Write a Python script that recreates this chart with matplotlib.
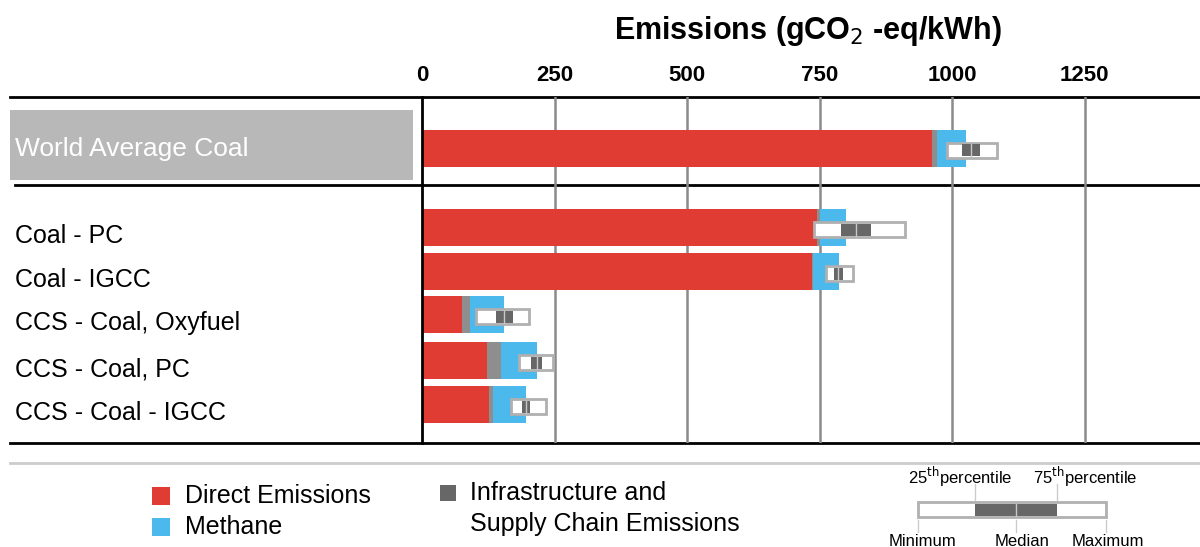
import matplotlib
matplotlib.use("Agg")
import matplotlib.pyplot as plt
from matplotlib.patches import Rectangle

plt.rcParams['font.family'] = ['Liberation Sans', 'DejaVu Sans']

# ---- data (gCO2-eq/kWh) ----
categories = ["World Average Coal", "Coal - PC", "Coal - IGCC",
              "CCS - Coal, Oxyfuel", "CCS - Coal, PC", "CCS - Coal - IGCC"]
direct = [962, 745, 736, 75, 123, 126]
infrastructure = [10, 6, 2, 16, 26, 8]
methane = [54, 49, 49, 64, 68, 62]
box_min = [990, 740, 762, 102, 183, 168]
box_q1 = [1019, 790, 777, 140, 206, 189]
box_median = [1036, 819, 785, 155, 217, 196]
box_q3 = [1053, 847, 794, 172, 226, 204]
box_max = [1085, 911, 813, 202, 247, 234]
ticks = [0, 250, 500, 750, 1000, 1250]

# ---- layout ----
W, H = 1200, 547
row_y = [148, 228, 272, 315, 361, 405]   # pixel rows (layout)
bar_h = 37
box_h = 15

RED = "#E03C33"
BLUE = "#4BB9EC"
GREY = "#8E8E8E"
DARK = "#676767"

fig = plt.figure(figsize=(12, 5.47), dpi=100)

# overlay axes in pixel coordinates
ov = fig.add_axes([0, 0, 1, 1])
ov.set_xlim(0, W)
ov.set_ylim(H, 0)
ov.axis("off")
ov.patch.set_alpha(0)

# data axes
x0, x1, ytop, ybot = 422, 1200, 97, 443
ax = fig.add_axes([x0 / W, (H - ybot) / H, (x1 - x0) / W, (ybot - ytop) / H])
ax.patch.set_alpha(0)
px_per_unit = 0.53
ax.set_xlim(0, (x1 - x0) / px_per_unit)
ax.set_ylim(ybot, ytop)
for s in ["top", "right", "bottom"]:
    ax.spines[s].set_visible(False)
ax.spines["left"].set_linewidth(2)
ax.spines["left"].set_color("black")
ax.xaxis.tick_top()
ax.set_xticks(ticks)
ax.set_xticklabels([str(t) for t in ticks], fontsize=16, fontweight="bold")
ax.tick_params(axis="x", length=0, pad=8)
ax.set_yticks([])
for t in ticks[1:]:
    ax.axvline(t, color="#8a8a8a", lw=1.8, zorder=0)

# stacked bars
left2 = [d + i for d, i in zip(direct, infrastructure)]
ax.barh(row_y, direct, height=bar_h, color=RED, zorder=2)
ax.barh(row_y, infrastructure, left=direct, height=bar_h, color=GREY, zorder=2)
ax.barh(row_y, methane, left=left2, height=bar_h, color=BLUE, zorder=2)

# box plots
for y, mn, q1, md, q3, mx in zip(row_y, box_min, box_q1, box_median, box_q3, box_max):
    yc = y + 2
    ax.add_patch(Rectangle((mn, yc - box_h / 2), mx - mn, box_h, facecolor="white",
                           edgecolor="#b0b0b0", lw=2, zorder=3))
    ax.add_patch(Rectangle((q1, yc - box_h / 2 + 1.5), q3 - q1, box_h - 3,
                           facecolor=DARK, edgecolor="none", zorder=4))
    ax.plot([md, md], [yc - box_h / 2 + 1.5, yc + box_h / 2 - 1.5],
            color="#c8c8c8", lw=1, zorder=5)

# title
fig.text(808 / W, 1 - 31 / H, r"Emissions (gCO$_{2}$ -eq/kWh)", ha="center",
         va="center", fontsize=22, fontweight="bold")

# horizontal rules
ov.plot([10, 1200], [97, 97], color="black", lw=2)
ov.plot([15, 1200], [185, 185], color="black", lw=2)
ov.plot([10, 1200], [443, 443], color="black", lw=2)
ov.plot([10, 1200], [463, 463], color="#cccccc", lw=2)

# labels
ov.add_patch(Rectangle((10, 110), 403, 70, facecolor="#b8b8b8", edgecolor="none"))
ov.text(15, 149, categories[0], color="white", fontsize=19, va="center", ha="left")
for y, lab in zip(row_y[1:], categories[1:]):
    ov.text(15, y + 8, lab, color="black", fontsize=18, va="center", ha="left")

# legend
ov.add_patch(Rectangle((152, 487), 18, 18, facecolor=RED, edgecolor="none"))
ov.text(185, 496, "Direct Emissions", fontsize=18, va="center")
ov.add_patch(Rectangle((152, 518), 18, 18, facecolor=BLUE, edgecolor="none"))
ov.text(185, 527, "Methane", fontsize=18, va="center")
ov.add_patch(Rectangle((440, 485), 16, 16, facecolor=DARK, edgecolor="none"))
ov.text(470, 493, "Infrastructure and", fontsize=18, va="center")
ov.text(470, 524, "Supply Chain Emissions", fontsize=18, va="center")

# box legend
ov.add_patch(Rectangle((918, 502), 188, 15, facecolor="white", edgecolor="#b0b0b0", lw=2))
ov.add_patch(Rectangle((975, 503.5), 82, 12, facecolor=DARK, edgecolor="none"))
ov.plot([1016, 1016], [503.5, 515.5], color="#c8c8c8", lw=1)
for xx in [975, 1057]:
    ov.plot([xx, xx], [484, 500], color="#cccccc", lw=1)
for xx in [918, 1016, 1106]:
    ov.plot([xx, xx], [520, 532], color="#cccccc", lw=1)
ov.text(960, 477, r"25$^{\rm th}$percentile", fontsize=12, ha="center", va="center")
ov.text(1085, 477, r"75$^{\rm th}$percentile", fontsize=12, ha="center", va="center")
ov.text(923, 541, "Minimum", fontsize=12, ha="center", va="center")
ov.text(1022, 541, "Median", fontsize=12, ha="center", va="center")
ov.text(1108, 541, "Maximum", fontsize=12, ha="center", va="center")

fig.savefig("out.png", dpi=100)
